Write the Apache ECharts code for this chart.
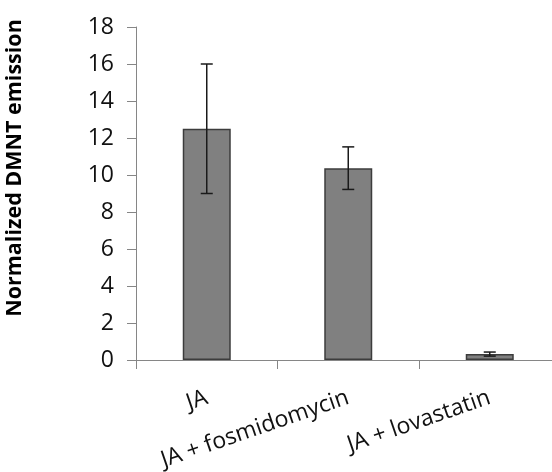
<!DOCTYPE html>
<html><head><meta charset="utf-8">
<script src="https://cdn.jsdelivr.net/npm/echarts@6/dist/echarts.min.js"></script>
<style>html,body{margin:0;padding:0;background:#fff}#c{width:552px;height:472px}</style>
</head><body><div id="c"></div>
<script>
var categories = ['JA', 'JA + fosmidomycin', 'JA + lovastatin'];
var values = [12.5, 10.37, 0.32];
var errors = [3.5, 1.15, 0.11];
var yTicks = {min: 0, max: 18, interval: 2};
var yTitle = 'Normalized DMNT emission';

var chart = echarts.init(document.getElementById('c'), null, {renderer: 'canvas'});
var errData = values.map(function (v, i) { return [i, v - errors[i], v + errors[i]]; });
var font = '"Open Sans", sans-serif';
chart.setOption({
  animation: false,
  grid: {left: 136, top: 27, bottom: 112, right: -8.5, containLabel: false, outerBoundsMode: 'none'},
  xAxis: {
    type: 'category', data: categories,
    axisLine: {lineStyle: {color: '#868686', width: 1}},
    axisTick: {show: true, length: 9, lineStyle: {color: '#868686'}},
    axisLabel: {interval: 0, rotate: 19, margin: 37, color: '#111', fontSize: 23, fontFamily: font}
  },
  yAxis: {
    type: 'value', min: yTicks.min, max: yTicks.max, interval: yTicks.interval,
    splitLine: {show: false},
    axisLine: {show: true, lineStyle: {color: '#868686', width: 1}},
    axisTick: {show: true, length: 9, lineStyle: {color: '#868686'}},
    axisLabel: {margin: 22, color: '#111', fontSize: 23, fontFamily: font}
  },
  graphic: [{
    type: 'text', x: 15, y: 168, rotation: Math.PI / 2,
    style: {text: yTitle, fill: '#000', font: 'bold 21.5px "Open Sans", sans-serif', align: 'center', verticalAlign: 'middle'}
  }],
  series: [{
    type: 'bar', data: values, barWidth: 48,
    itemStyle: {color: '#808080', borderColor: '#3c3c3c', borderWidth: 1.5}
  }, {
    type: 'custom', data: errData,
    renderItem: function (params, api) {
      var x = api.coord([api.value(0), 0])[0];
      var lo = api.coord([api.value(0), api.value(1)])[1];
      var hi = api.coord([api.value(0), api.value(2)])[1];
      var w = 6;
      var st = {stroke: '#1a1a1a', lineWidth: 1.5};
      return {type: 'group', children: [
        {type: 'line', shape: {x1: x, y1: lo, x2: x, y2: hi}, style: st},
        {type: 'line', shape: {x1: x - w, y1: hi, x2: x + w, y2: hi}, style: st},
        {type: 'line', shape: {x1: x - w, y1: lo, x2: x + w, y2: lo}, style: st}
      ]};
    },
    z: 5
  }]
});
</script></body></html>
